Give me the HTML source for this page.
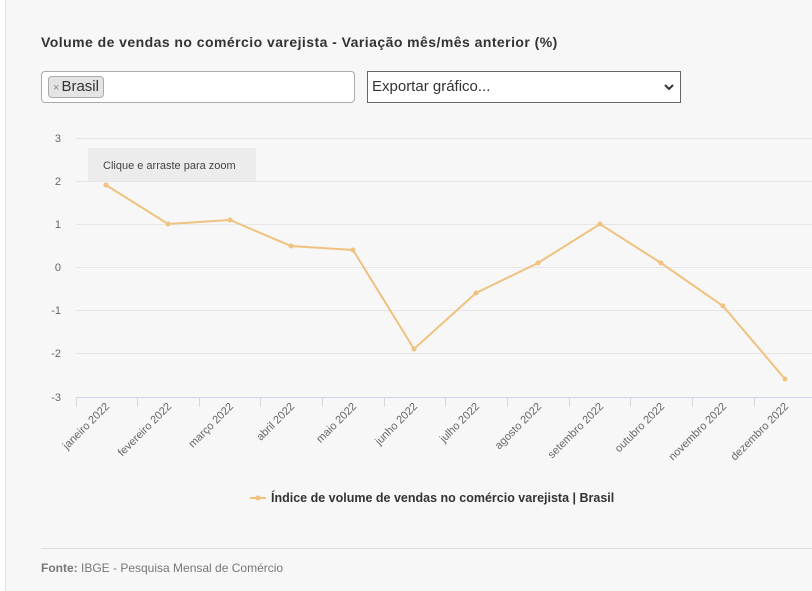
<!DOCTYPE html>
<html><head><meta charset="utf-8"><style>
body{margin:0;width:812px;height:591px;overflow:hidden;background:#fff;font-family:"Liberation Sans","DejaVu Sans",sans-serif;}
.panel{position:absolute;left:5px;top:0;width:807px;height:591px;background:#f7f7f7;border-left:1px solid #e3e3e3;}
.title{position:absolute;left:41px;top:34px;font-size:14px;font-weight:bold;color:#333;letter-spacing:0.45px;}
.sel1{position:absolute;left:41px;top:71px;width:312px;height:30px;border:1px solid #aaa;border-radius:4px;background:#fff;}
.tag{position:absolute;left:6px;top:4px;height:20px;padding:0 4px;border:1px solid #aaa;border-radius:4px;background:#e4e4e4;font-size:15px;line-height:20px;color:#333;}
.tag span{color:#888;font-size:11px;margin-right:2px;}
.sel2{position:absolute;left:367px;top:71px;border:1px solid #666;background:#fff;font-size:15px;line-height:30px;padding-left:4px;box-sizing:border-box;width:314px;height:32px;color:#333;}
.foot{position:absolute;left:41px;top:561px;font-size:12px;color:#777;}
.hr{position:absolute;left:41px;top:548px;width:771px;height:1px;background:#ddd;}
</style></head><body>
<div class="panel"></div>
<div class="title">Volume de vendas no comércio varejista - Variação mês/mês anterior (%)</div>
<div class="sel1"><div class="tag"><span>×</span>Brasil</div></div>
<div class="sel2">Exportar gráfico...<svg style="position:absolute;right:6px;top:12px" width="10" height="7"><polyline points="1,1 5,5 9,1" fill="none" stroke="#333" stroke-width="2"/></svg></div>
<svg style="position:absolute;left:0;top:0" width="812" height="591" font-family="Liberation Sans, DejaVu Sans, sans-serif">
<g stroke="#e6e6e6" stroke-width="1">
<line x1="76" x2="812" y1="138.5" y2="138.5"/><line x1="76" x2="812" y1="181.5" y2="181.5"/><line x1="76" x2="812" y1="224.5" y2="224.5"/><line x1="76" x2="812" y1="267.5" y2="267.5"/><line x1="76" x2="812" y1="310.5" y2="310.5"/><line x1="76" x2="812" y1="353.5" y2="353.5"/>
</g>
<line x1="76" x2="812" y1="397.5" y2="397.5" stroke="#ccd6eb"/>
<g stroke="#d8d8d8">
<line x1="76.5" x2="76.5" y1="397" y2="407"/><line x1="137.5" x2="137.5" y1="397" y2="407"/><line x1="199.5" x2="199.5" y1="397" y2="407"/><line x1="260.5" x2="260.5" y1="397" y2="407"/><line x1="322.5" x2="322.5" y1="397" y2="407"/><line x1="384.5" x2="384.5" y1="397" y2="407"/><line x1="445.5" x2="445.5" y1="397" y2="407"/><line x1="507.5" x2="507.5" y1="397" y2="407"/><line x1="569.5" x2="569.5" y1="397" y2="407"/><line x1="630.5" x2="630.5" y1="397" y2="407"/><line x1="692.5" x2="692.5" y1="397" y2="407"/><line x1="754.5" x2="754.5" y1="397" y2="407"/>
</g>
<g font-size="11" fill="#666" text-anchor="end">
<text x="61" y="142">3</text><text x="61" y="185">2</text><text x="61" y="228">1</text><text x="61" y="271">0</text><text x="61" y="314">-1</text><text x="61" y="357">-2</text><text x="61" y="401">-3</text>
</g>
<g font-size="11" fill="#666" text-anchor="end">
<text transform="translate(110,407) rotate(-45)">janeiro 2022</text>
<text transform="translate(172,407) rotate(-45)">fevereiro 2022</text>
<text transform="translate(234,407) rotate(-45)">março 2022</text>
<text transform="translate(295,407) rotate(-45)">abril 2022</text>
<text transform="translate(357,407) rotate(-45)">maio 2022</text>
<text transform="translate(418,407) rotate(-45)">junho 2022</text>
<text transform="translate(480,407) rotate(-45)">julho 2022</text>
<text transform="translate(542,407) rotate(-45)">agosto 2022</text>
<text transform="translate(604,407) rotate(-45)">setembro 2022</text>
<text transform="translate(665,407) rotate(-45)">outubro 2022</text>
<text transform="translate(727,407) rotate(-45)">novembro 2022</text>
<text transform="translate(789,407) rotate(-45)">dezembro 2022</text>
</g>
<rect x="88" y="148" width="168" height="33" fill="#ececec"/>
<text x="103" y="169" font-size="11" fill="#444">Clique e arraste para zoom</text>
<polyline fill="none" stroke="#f0c27f" stroke-width="2" points="106,185 168,224 230,220 291,246 353,250 414,349 476,293 538,263 600,224 661,263 723,306 785,379"/>
<g fill="#f0c27f">
<circle cx="106" cy="185" r="2.5"/><circle cx="168" cy="224" r="2.5"/><circle cx="230" cy="220" r="2.5"/><circle cx="291" cy="246" r="2.5"/><circle cx="353" cy="250" r="2.5"/><circle cx="414" cy="349" r="2.5"/><circle cx="476" cy="293" r="2.5"/><circle cx="538" cy="263" r="2.5"/><circle cx="600" cy="224" r="2.5"/><circle cx="661" cy="263" r="2.5"/><circle cx="723" cy="306" r="2.5"/><circle cx="785" cy="379" r="2.5"/>
</g>
<line x1="250" x2="266" y1="498" y2="498" stroke="#f0c27f" stroke-width="2"/><circle cx="258" cy="498" r="2.5" fill="#f0c27f"/>
<text x="271" y="502" font-size="12.5" font-weight="bold" fill="#333">Índice de volume de vendas no comércio varejista | Brasil</text>
</svg>
<div class="hr"></div>
<div class="foot"><b>Fonte:</b> IBGE - Pesquisa Mensal de Comércio</div>
</body></html>
